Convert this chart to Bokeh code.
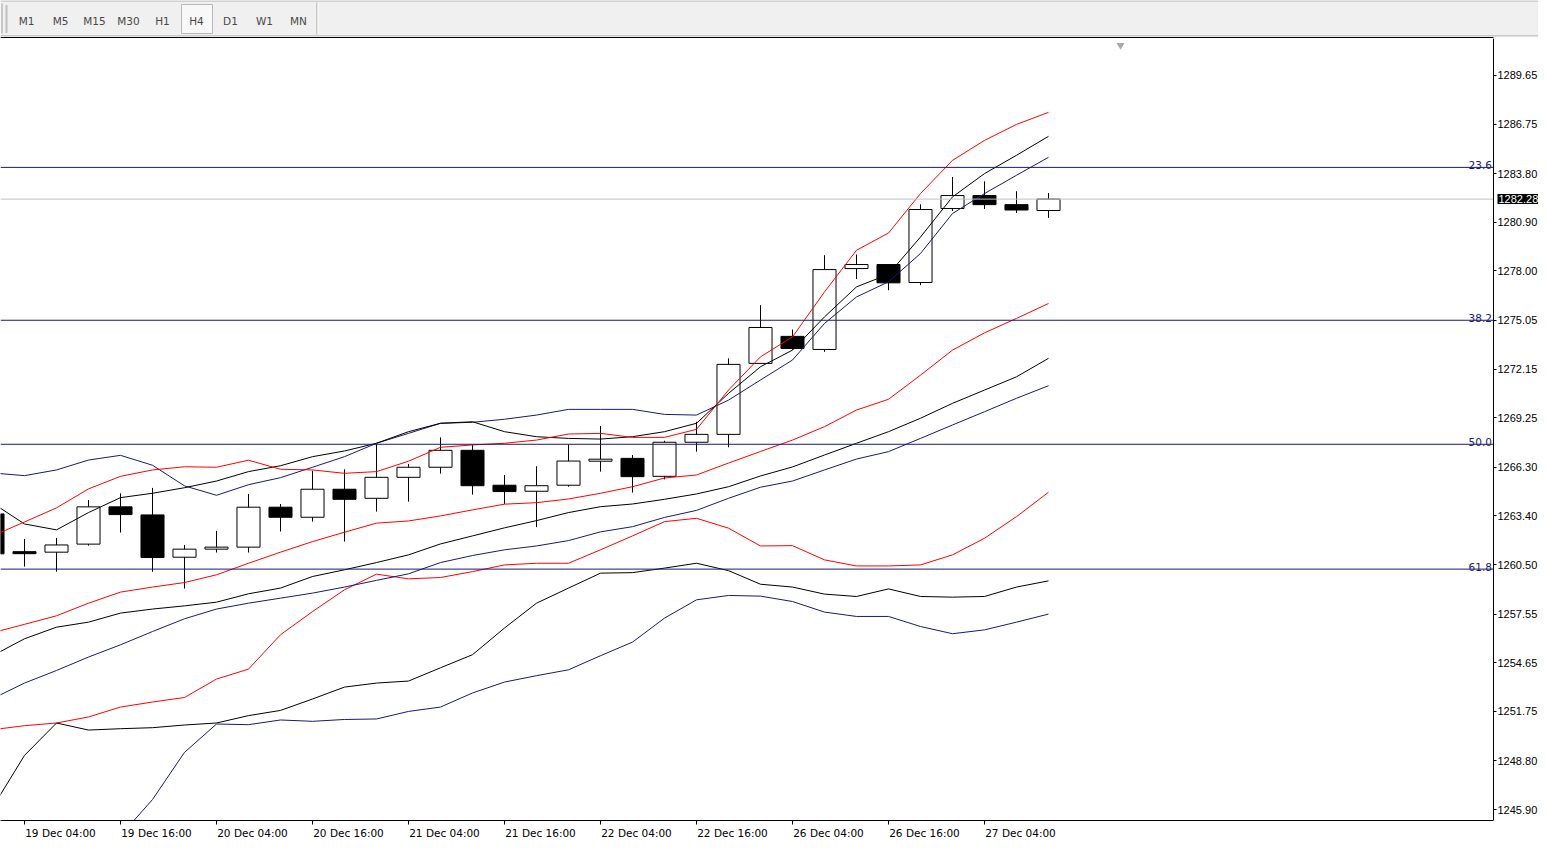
from bokeh.plotting import figure
from bokeh.models import Range1d, FixedTicker, PrintfTickFormatter, Label, ColumnDataSource
from bokeh.layouts import column
from bokeh.embed import file_html
from bokeh.resources import INLINE
from bokeh.core.properties import value

# ---------------- data (XAUUSD H4) ----------------
open_ = [1263.52, 1261.27, 1261.24, 1261.72, 1263.94, 1263.46, 1260.94, 1261.42, 1261.54, 1263.92,
         1263.32, 1264.99, 1264.45, 1265.70, 1266.30, 1267.31, 1265.23, 1264.87, 1265.23, 1266.66,
         1266.83, 1265.76, 1267.79, 1268.26, 1272.49, 1274.10, 1273.32, 1278.14, 1278.38, 1277.31,
         1281.72, 1282.49, 1281.95, 1281.60]
high = [1263.80, 1262.03, 1262.09, 1264.35, 1264.75, 1265.07, 1261.67, 1262.51, 1264.71, 1264.11,
        1266.10, 1266.18, 1267.67, 1266.50, 1268.08, 1267.63, 1265.84, 1266.36, 1267.67, 1268.76,
        1267.03, 1267.88, 1269.01, 1272.79, 1275.96, 1274.51, 1278.94, 1278.98, 1278.40, 1281.97,
        1283.60, 1283.34, 1282.75, 1282.64]
low = [1260.90, 1260.38, 1260.08, 1261.63, 1262.41, 1260.07, 1259.07, 1261.22, 1261.22, 1262.47,
       1263.06, 1261.87, 1263.66, 1264.25, 1265.92, 1264.67, 1264.11, 1262.73, 1265.14, 1266.04,
       1264.79, 1265.58, 1267.23, 1267.49, 1272.45, 1273.30, 1273.18, 1277.52, 1276.85, 1277.15,
       1281.57, 1281.69, 1281.45, 1281.16]
close = [1261.14, 1261.15, 1261.67, 1263.94, 1263.48, 1260.92, 1261.42, 1261.54, 1263.92, 1263.32,
         1264.99, 1264.39, 1265.70, 1266.30, 1267.31, 1265.20, 1264.85, 1265.20, 1266.67, 1266.78,
         1265.74, 1267.79, 1268.26, 1272.43, 1274.63, 1273.38, 1278.08, 1278.38, 1277.29, 1281.66,
         1282.49, 1281.95, 1281.63, 1282.28]

# three Bollinger-style bands (upper / middle / lower)
blue_upper = [1265.96, 1265.80, 1266.14, 1266.73, 1267.01, 1266.42, 1265.19, 1264.63, 1265.26, 1265.68,
              1266.30, 1266.93, 1267.73, 1268.32, 1268.92, 1268.98, 1269.16, 1269.41, 1269.75, 1269.75,
              1269.75, 1269.45, 1269.41, 1270.30, 1271.50, 1272.69, 1274.87, 1276.45, 1277.35, 1279.04,
              1281.42, 1282.61, 1283.70, 1284.77]
black_upper = [1264.17, 1262.92, 1262.57, 1263.60, 1264.49, 1264.75, 1265.08, 1265.48, 1266.04, 1266.39,
               1266.93, 1267.27, 1267.73, 1268.42, 1268.92, 1269.01, 1268.42, 1268.12, 1268.02, 1267.98,
               1268.12, 1268.42, 1268.92, 1270.70, 1272.29, 1273.28, 1275.26, 1277.05, 1277.80, 1280.02,
               1282.41, 1283.80, 1284.89, 1286.02]
red_upper = [1262.21, 1263.04, 1263.88, 1265.01, 1265.76, 1266.14, 1266.33, 1266.30, 1266.72, 1266.18,
             1266.14, 1265.94, 1266.04, 1266.66, 1267.49, 1267.63, 1267.73, 1267.92, 1268.28, 1268.32,
             1268.08, 1268.08, 1268.56, 1270.90, 1272.88, 1274.07, 1276.75, 1279.23, 1280.26, 1282.61,
             1284.59, 1285.78, 1286.73, 1287.45]
red_middle = [1256.44, 1256.94, 1257.45, 1258.20, 1258.86, 1259.16, 1259.43, 1259.89, 1260.58, 1261.24,
              1261.87, 1262.43, 1262.97, 1263.10, 1263.40, 1263.76, 1264.10, 1264.19, 1264.41, 1264.75,
              1265.14, 1265.66, 1265.84, 1266.55, 1267.24, 1267.92, 1268.72, 1269.71, 1270.35, 1271.79,
              1273.28, 1274.31, 1275.17, 1276.06]
black_middle = [1255.07, 1256.08, 1256.77, 1257.07, 1257.61, 1257.85, 1258.04, 1258.26, 1258.76, 1259.10,
                1259.79, 1260.19, 1260.62, 1261.08, 1261.73, 1262.21, 1262.69, 1263.12, 1263.60, 1263.95,
                1264.11, 1264.39, 1264.71, 1265.14, 1265.78, 1266.32, 1267.03, 1267.73, 1268.42, 1269.22,
                1270.11, 1270.90, 1271.69, 1272.79]
blue_middle = [1252.51, 1253.44, 1254.19, 1254.99, 1255.72, 1256.51, 1257.27, 1257.85, 1258.20, 1258.50,
               1258.80, 1259.16, 1259.56, 1259.95, 1260.62, 1261.04, 1261.38, 1261.61, 1261.93, 1262.45,
               1262.76, 1263.31, 1263.73, 1264.45, 1265.11, 1265.48, 1266.14, 1266.79, 1267.23, 1268.02,
               1268.82, 1269.61, 1270.41, 1271.16]
red_lower = [1250.66, 1250.90, 1251.06, 1251.42, 1252.01, 1252.31, 1252.58, 1253.68, 1254.27, 1256.32,
             1257.70, 1259.00, 1259.93, 1259.65, 1259.73, 1260.08, 1260.48, 1260.58, 1260.58, 1261.38,
             1262.21, 1263.06, 1263.26, 1262.67, 1261.61, 1261.63, 1260.78, 1260.42, 1260.42, 1260.48,
             1261.08, 1262.07, 1263.36, 1264.81]
black_lower = [1246.02, 1249.13, 1251.06, 1250.64, 1250.72, 1250.78, 1250.94, 1251.06, 1251.50, 1251.81,
               1252.49, 1253.20, 1253.44, 1253.56, 1254.35, 1255.13, 1256.72, 1258.20, 1259.10, 1259.99,
               1260.02, 1260.29, 1260.58, 1260.14, 1259.33, 1259.16, 1258.74, 1258.60, 1259.05, 1258.60,
               1258.56, 1258.60, 1259.16, 1259.53]
blue_lower = [1237.57, 1239.05, 1240.84, 1242.45, 1244.35, 1246.50, 1249.31, 1251.00, 1250.96, 1251.24,
              1251.16, 1251.27, 1251.30, 1251.75, 1252.01, 1252.85, 1253.50, 1253.88, 1254.23, 1255.07,
              1255.88, 1257.31, 1258.40, 1258.66, 1258.62, 1258.30, 1257.67, 1257.41, 1257.41, 1256.81,
              1256.38, 1256.61, 1257.07, 1257.55]

fib_levels = [1284.17, 1275.06, 1267.67, 1260.23]
fib_labels = ["23.6", "38.2", "50.0", "61.8"]
last_price = 1282.28

price_ticks = [1245.90, 1248.80, 1251.75, 1254.65, 1257.55, 1260.50, 1263.40, 1266.30,
               1269.25, 1272.15, 1275.05, 1278.00, 1280.90, 1283.80, 1286.75, 1289.65]
time_tick_bars = [1, 4, 7, 10, 13, 16, 19, 22, 25, 28, 31]
time_tick_labels = ["19 Dec 04:00", "19 Dec 16:00", "20 Dec 04:00", "20 Dec 16:00", "21 Dec 04:00",
                    "21 Dec 16:00", "22 Dec 04:00", "22 Dec 16:00", "26 Dec 04:00", "26 Dec 16:00",
                    "27 Dec 04:00"]
timeframes = ["M1", "M5", "M15", "M30", "H1", "H4", "D1", "W1", "MN"]
active_tf = "H4"
shift_marker_bar = 35.25

# ---------------- style / geometry ----------------
FONT = "DejaVu Sans"
SCALE_FONT = "Liberation Sans"
NAVY = "#191970"
W = 1538
TB_H = 38
MAIN_H = 841 - TB_H
BAR_PX = 32.0
X0 = 0.25
X1 = X0 + W / BAR_PX
AXIS_X = X0 + 1493 / BAR_PX          # price scale sits at the right edge of the chart window
LABEL_SHIFT = 1.125                 # time labels start at their tick (left aligned)

# ---------------- toolbar strip ----------------
tb = figure(width=W, height=TB_H, x_range=Range1d(0, W), y_range=Range1d(TB_H, 0),
            output_backend="svg", toolbar_location=None, min_border=0,
            x_axis_type=None, y_axis_type=None)
tb.background_fill_color = "#f0f0f0"
tb.border_fill_color = "#f0f0f0"
tb.outline_line_color = None
tb.xgrid.visible = False
tb.ygrid.visible = False

tf_x = [26 + 34.0 * i for i in range(len(timeframes))]
ai = timeframes.index(active_tf)
tb.segment(x0=[0], y0=[0.5], x1=[W], y1=[0.5], line_color="#b0b0b0", line_width=1)
tb.segment(x0=[1.5], y0=[3], x1=[1.5], y1=[33], line_color="#a0a0a0", line_width=1)
tb.segment(x0=[6], y0=[5], x1=[6], y1=[33], line_color="#909090", line_width=2, line_dash="1 1")
tb.quad(left=[tf_x[ai] - 15], right=[tf_x[ai] + 16], top=[4], bottom=[33],
        fill_color="#f8f8f8", line_color="#b8b8b8", line_width=1)
tb.text(x=tf_x, y=[20.5] * len(timeframes), text=timeframes, text_align="center",
        text_baseline="middle", text_font=value(FONT), text_font_size="10.5px", text_color="#484848")
sep_x = tf_x[-1] + 18.5
tb.segment(x0=[sep_x], y0=[2], x1=[sep_x], y1=[34], line_color="#a0a0a0", line_width=1)
tb.segment(x0=[sep_x + 1], y0=[2], x1=[sep_x + 1], y1=[34], line_color="#ffffff", line_width=1)
tb.segment(x0=[0], y0=[35.5], x1=[W], y1=[35.5], line_color="#a0a0a0", line_width=1)
tb.segment(x0=[0], y0=[36.5], x1=[W], y1=[36.5], line_color="#ffffff", line_width=1)
tb.segment(x0=[0], y0=[37.4], x1=[1493], y1=[37.4], line_color="black", line_width=1.6)

# ---------------- main chart ----------------
p = figure(width=W, height=MAIN_H, x_range=Range1d(X0, X1), y_range=Range1d(1245.25, 1291.85),
           y_axis_location="right", output_backend="svg", toolbar_location=None,
           min_border_left=0, min_border_top=0, min_border_right=0, min_border_bottom=20)
p.outline_line_color = None
p.xgrid.visible = False
p.ygrid.visible = False
p.background_fill_color = "white"
p.border_fill_color = "white"

bars = list(range(len(open_)))
src = ColumnDataSource(dict(
    x=bars, h=high, l=low,
    top=[max(o, c) for o, c in zip(open_, close)],
    bottom=[min(o, c) for o, c in zip(open_, close)],
    fill=["white" if c >= o else "black" for o, c in zip(open_, close)],
))
p.segment(x0="x", y0="l", x1="x", y1="h", source=src, line_color="black", line_width=1)
p.vbar(x="x", width=0.72, top="top", bottom="bottom", fill_color="fill",
       line_color="black", line_width=1, source=src)

for ys, col in [(red_lower, "red"), (black_lower, "black"), (blue_lower, NAVY),
                (red_middle, "red"), (black_middle, "black"), (blue_middle, NAVY),
                (blue_upper, NAVY), (black_upper, "black"), (red_upper, "red")]:
    p.line(bars, ys, line_color=col, line_width=1)

# current price line and Fibonacci levels (across the chart window)
p.segment(x0=[X0], y0=[last_price], x1=[AXIS_X], y1=[last_price], line_color="#c0c0c0", line_width=1)
nf = len(fib_levels)
p.segment(x0=[X0] * nf, y0=fib_levels, x1=[AXIS_X] * nf, y1=fib_levels, line_color=NAVY, line_width=1)
p.text(x=[AXIS_X - 1.5 / BAR_PX] * nf, y=fib_levels, text=fib_labels,
       text_align="right", text_baseline="alphabetic", y_offset=-2,
       text_font=value(FONT), text_font_size="10.5px", text_color=NAVY)

p.scatter(x=[shift_marker_bar], y=[1291.45], marker="inverted_triangle", size=8,
          fill_color="#a8a8a8", line_color=None)

# time axis: labels left-aligned at their ticks
xa = p.xaxis[0]
xa.ticker = FixedTicker(ticks=[b + LABEL_SHIFT for b in time_tick_bars], minor_ticks=time_tick_bars)
xa.major_label_overrides = {b + LABEL_SHIFT: t for b, t in zip(time_tick_bars, time_tick_labels)}
xa.bounds = (X0, AXIS_X)
xa.major_tick_out = 0
xa.major_tick_in = 0
xa.minor_tick_out = 4
xa.minor_tick_in = 0
xa.minor_tick_line_color = "black"
xa.axis_line_color = "black"
xa.major_label_standoff = 2
xa.major_label_text_font = FONT
xa.major_label_text_font_size = "10.5px"
xa.major_label_text_color = "black"

# price axis at the right edge of the chart window
ya = p.yaxis[0]
ya.fixed_location = AXIS_X
ya.ticker = FixedTicker(ticks=price_ticks)
ya.formatter = PrintfTickFormatter(format="%.2f")
ya.major_tick_out = 3
ya.major_tick_in = 0
ya.minor_tick_out = 0
ya.minor_tick_in = 0
ya.axis_line_color = "black"
ya.major_tick_line_color = "black"
ya.major_label_standoff = 1
ya.major_label_text_font = SCALE_FONT
ya.major_label_text_font_size = "11px"
ya.major_label_text_color = "black"

p.add_layout(Label(x=AXIS_X + 4 / BAR_PX, y=last_price, text=f"{last_price:.2f}",
                   text_align="left", text_baseline="middle", text_color="white",
                   text_font=SCALE_FONT, text_font_size="11px",
                   background_fill_color="black", padding=1))

layout = column(tb, p, spacing=0)
open("out.html", "w").write(file_html(layout, INLINE))
